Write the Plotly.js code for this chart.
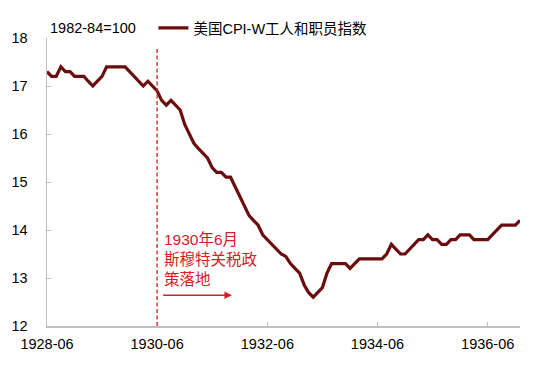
<!DOCTYPE html>
<html>
<head>
<meta charset="utf-8">
<script src="https://cdn.plot.ly/plotly-3.0.1.min.js"></script>
<style>html,body{margin:0;padding:0;background:#fff;}#chart{width:550px;height:368px;}</style>
</head>
<body>
<div id="chart"></div>
<script>
// Monthly CPI-W (1982-84=100), 1928-06 .. 1937-01
const startYear = 1928, startMonth = 6;
const cpiW = [
  17.3, 17.2, 17.2, 17.4, 17.3, 17.3, 17.2, 17.2, 17.2, 17.1, 17.0, 17.1,
  17.2, 17.4, 17.4, 17.4, 17.4, 17.4, 17.3, 17.2, 17.1, 17.0, 17.1, 17.0,
  16.9, 16.7, 16.6, 16.7, 16.6, 16.5, 16.2, 16.0, 15.8, 15.7, 15.6, 15.5,
  15.3, 15.2, 15.2, 15.1, 15.1, 14.9, 14.7, 14.5, 14.3, 14.2, 14.1, 13.9,
  13.8, 13.7, 13.6, 13.5, 13.45, 13.3, 13.2, 13.1, 12.85, 12.7, 12.6, 12.7,
  12.8, 13.1, 13.3, 13.3, 13.3, 13.3, 13.2, 13.3, 13.4, 13.4, 13.4, 13.4,
  13.4, 13.4, 13.5, 13.7, 13.6, 13.5, 13.5, 13.6, 13.7, 13.8, 13.8, 13.9,
  13.8, 13.8, 13.7, 13.7, 13.8, 13.8, 13.9, 13.9, 13.9, 13.8, 13.8, 13.8,
  13.8, 13.9, 14.0, 14.1, 14.1, 14.1, 14.1, 14.2
];
const tickLabels = ["1928-06", "1930-06", "1932-06", "1934-06", "1936-06"];
const seriesName = "美国CPI-W工人和职员指数";
const unitNote = "1982-84=100";
const eventDate = "1930-06";
const eventText = "1930年6月<br>斯穆特关税政<br>策落地";

const months = cpiW.map((_, i) => {
  const t = startYear * 12 + (startMonth - 1) + i;
  const y = Math.floor(t / 12), m = t % 12 + 1;
  return y + "-" + String(m).padStart(2, "0") + "-01";
});
const lastMonth = months[months.length - 1];

const FONT = "Liberation Sans, Arial, Noto Sans CJK SC, sans-serif";
const AX = "#bfbfbf";
const RED = "#d42026";

const trace = {
  type: "scatter", mode: "lines", x: months, y: cpiW, name: seriesName,
  line: {color: "#6b0d0d", width: 3.2}
};

const layout = {
  width: 550, height: 368,
  margin: {l: 47, r: 30, t: 35, b: 42},
  paper_bgcolor: "#fff", plot_bgcolor: "#fff",
  font: {family: FONT, size: 14, color: "#000"},
  showlegend: true,
  legend: {x: 0.225, y: 1.035, xanchor: "left", yanchor: "middle",
           font: {family: FONT, size: 14.5, color: "#000"}, bgcolor: "rgba(0,0,0,0)"},
  xaxis: {
    type: "date", range: [months[0], lastMonth],
    tickvals: tickLabels.map(s => s + "-01"), ticktext: tickLabels,
    showline: true, linecolor: AX, linewidth: 1.5,
    ticks: "inside", ticklen: 4, tickcolor: AX, tickwidth: 1,
    showgrid: false, zeroline: false,
    tickfont: {family: FONT, size: 14.5, color: "#000"},
    ticklabelstandoff: 4
  },
  yaxis: {
    range: [12, 18], dtick: 1, tick0: 12,
    showline: true, linecolor: AX, linewidth: 1.5,
    ticks: "inside", ticklen: 4, tickcolor: AX, tickwidth: 1,
    showgrid: false, zeroline: false,
    tickfont: {family: FONT, size: 14.5, color: "#000"},
    ticklabelstandoff: 15
  },
  shapes: [
    {type: "line", xref: "x", yref: "paper", x0: eventDate + "-01", x1: eventDate + "-01",
     y0: 0, y1: 0.965, line: {color: RED, width: 1.3, dash: "4px,2.5px"}}
  ],
  annotations: [
    {xref: "paper", yref: "paper", x: 0.002, y: 1.035, xanchor: "left", yanchor: "middle",
     text: unitNote, showarrow: false, font: {family: FONT, size: 14.5, color: "#000"}},
    {xref: "x", yref: "y", x: "1930-07-01", y: 13.39, xanchor: "left", yanchor: "middle", align: "left",
     text: eventText, showarrow: false, font: {family: FONT, size: 15.5, color: RED}},
    {xref: "x", yref: "y", x: "1931-10-10", y: 12.64, ax: "1930-07-01", ay: 12.64,
     axref: "x", ayref: "y", text: "", showarrow: true, arrowhead: 2, arrowsize: 1,
     arrowwidth: 1.5, arrowcolor: RED}
  ]
};

Plotly.newPlot("chart", [trace], layout, {staticPlot: true, displayModeBar: false});
</script>
</body>
</html>
